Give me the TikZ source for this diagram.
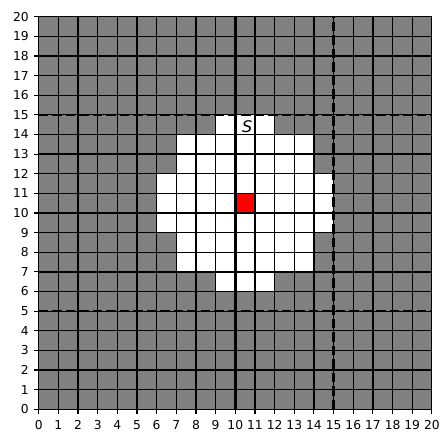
\documentclass[tikz,border=0pt]{standalone}
\usepackage{fontspec}
\setmainfont{DejaVu Sans}
\tikzset{
  gridline/.style={line width=1.25pt,black},
  axisline/.style={line width=2.7pt,black},
  bandline/.style={line width=2.5pt,black,dash pattern=on 9.5pt off 4pt},
  ticklabel/.style={inner sep=0pt,font=\fontsize{12.3}{14}\selectfont},
}
\begin{document}
\begin{tikzpicture}[x=19.66pt,y=19.63pt]
            \useasboundingbox (-1.9685,-1.207) rectangle (20.463,20.851);
            \fill[gray] (0,0) rectangle (20,20);
            % free cells of the disc, row by row
            \foreach \r/\a/\b in {6/9/11,7/7/13,8/7/13,9/6/14,10/6/14,11/6/14,12/7/13,13/7/13,14/9/11}
                {\fill[white] (\a,\r) rectangle ({\b+1},{\r+1});}
            \fill[red] (10,10) rectangle (11,11);
            \foreach \j in {1,...,19}
            {\draw[gridline] (\j,0)--(\j,20);
             \draw[gridline] (0,\j)--(20,\j);}
            \draw[axisline] (10,0)--(10,20);
            \draw[axisline] (0,10)--(20,10);
            \foreach \k in {5,15}
            {\draw[bandline] (\k,0)--(\k,20);
             \draw[bandline] (0,\k)--(20,\k);}
            \draw[line width=1.1pt] (0,0) rectangle (20,20);
            \foreach \i in {0,...,20}
            {\draw[line width=1.1pt] (\i,0)--++(0,-4.3pt);
             \draw[line width=1.1pt] (0,\i)--++(-4.3pt,0);
             \node[ticklabel,anchor=north,yshift=-10.7pt] (xt\i) at (\i,0) {\i};
             \node[ticklabel,anchor=east,xshift=-9.7pt] (yt\i) at (0,\i) {\i};}
            \node[inner sep=0pt,font=\fontsize{16}{18}\selectfont] (lblS) at (10.6,14.4) {\textit{S}};
\end{tikzpicture}
\end{document}
